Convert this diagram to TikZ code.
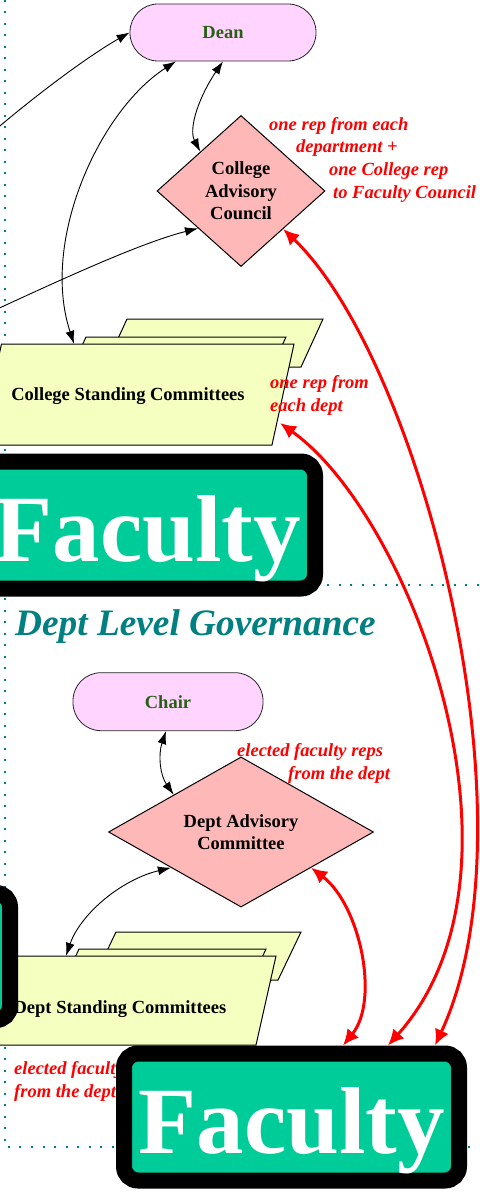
\documentclass[tikz,border=0pt]{standalone}
\usepackage{fontspec}
\setmainfont{Liberation Serif}
\usetikzlibrary{arrows.meta,shapes.geometric}
\definecolor{deanfill}{RGB}{255,212,255}
\definecolor{deantext}{RGB}{40,95,20}
\definecolor{diafill}{RGB}{255,184,184}
\definecolor{stdfill}{RGB}{245,255,192}
\definecolor{facteal}{RGB}{0,204,153}
\definecolor{clteal}{RGB}{0,128,128}
\definecolor{edgered}{RGB}{255,0,0}
\begin{document}
\begin{tikzpicture}[x=1pt,y=-1pt,
  headnode/.style={draw=black!85, line width=0.8pt, fill=deanfill, rounded corners=28pt, text=deantext, inner sep=0pt, font=\bfseries\fontsize{18.5}{22}\selectfont},
  council/.style={diamond, draw, line width=1pt, fill=diafill, inner sep=0pt, align=center, font=\bfseries\fontsize{18.5}{22.5}\selectfont},
  stdshape/.style={draw, line width=1pt, fill=stdfill},
  stdtext/.style={inner sep=0pt, font=\bfseries\fontsize{18.5}{22}\selectfont},
  faculty/.style={draw=black, line width=16pt, fill=facteal, rounded corners=14pt, minimum width=335pt, minimum height=127pt, inner sep=0pt, text=white, text height=72pt, text depth=0pt, font=\bfseries\fontsize{95}{95}\selectfont},
  redlabel/.style={text=edgered, align=left, inner sep=0pt, anchor=base west, font=\bfseries\itshape\fontsize{18.5}{23}\selectfont},
  cluster/.style={clteal, line width=2.5pt, dash pattern=on 2pt off 9.5pt},
  bone/.style={line width=0.9pt, -{Latex[length=13pt,width=9pt]}},
  bboth/.style={line width=0.9pt, {Latex[length=13pt,width=9pt]}-{Latex[length=13pt,width=9pt]}},
  rboth/.style={edgered, line width=3pt, {Latex[length=16pt,width=15pt]}-{Latex[length=16pt,width=15pt]}}
]
\useasboundingbox (0,0) rectangle (479,1193);
\clip (0,0) rectangle (479,1193);
\fill[white] (0,0) rectangle (479,1193);

% cluster borders
\draw[cluster] (5,0) -- (5,1147) -- (479,1147);
\draw[cluster] (5,585) -- (479,585);

% title
\node[anchor=base west, inner sep=0pt, text=clteal, font=\bfseries\itshape\fontsize{37.3}{40}\selectfont] (title) at (15,635) {Dept Level Governance};

% College standing committees
\draw[stdshape] (127,319) -- (323,319) -- (301,367) -- (105,367) -- cycle;
\draw[stdshape] (86,337) -- (286,337) -- (264,385) -- (64,385) -- cycle;
\draw[stdshape] (1.5,344) -- (294,344) -- (272,445) -- (-20.5,445) -- cycle;
\node[stdtext, minimum height=105pt] (csc) at (128,396.5) {College Standing Committees};

% Dept standing committees
\draw[stdshape] (116,932) -- (301,932) -- (278,980) -- (93,980) -- cycle;
\draw[stdshape] (79,949) -- (266,949) -- (244,997) -- (57,997) -- cycle;
\draw[stdshape] (7,956) -- (276,956) -- (256,1045) -- (-13,1045) -- cycle;
\node[stdtext, minimum height=106pt] (dsc) at (120,1009) {Dept Standing Committees};

% heads
\node[headnode, minimum width=186pt, minimum height=57pt] (dean) at (223,32.5) {\raisebox{-2pt}{Dean}};
\node[headnode, minimum width=190pt, minimum height=58pt] (chair) at (168,701.7) {\raisebox{-1pt}{Chair}};

% councils
\node[council, minimum width=168pt, minimum height=151pt] (cac) at (241,191) {College\\Advisory\\Council};
\node[council, minimum width=265pt, minimum height=143pt] (dac) at (241,832) {Dept Advisory\\Committee};

% edge labels
\node[redlabel] (lab1) at (269,199) {one rep from each\\\hspace*{27pt}department +\\\hspace*{60pt}one College rep\\\hspace*{64pt}to Faculty Council};
\node[redlabel] (lab2) at (270,411) {one rep from\\each dept};
\node[redlabel] (lab3) at (237,779) {elected faculty reps\\\hspace*{51pt}from the dept};
\node[redlabel] (lab4) at (14,1097) {elected faculty reps\\from the dept};

% faculty
\node[faculty] (fac1) at (147.5,525) {Faculty};
\node[faculty] (fac3) at (-157.5,956.5) {Faculty};
\node[faculty] (fac2) at (291.5,1117) {Faculty};

% free ends
\coordinate (offa) at (-20,143);
\coordinate (offb) at (-20,317);

% black edges
\draw[bone] (offa) .. controls (35,95) and (90,55) .. (dean.west);
\draw[bboth] ([xshift=-54pt]csc.north) .. controls (40,240) and (100,110) .. ([xshift=-47pt]dean.south);
\draw[bboth] (dean.south) .. controls (200,95) and (188,128) .. (cac.136);
\draw[bone] (offb) .. controls (60,280) and (140,243) .. (cac.221);
\draw[bboth] ([xshift=-2pt]chair.south) .. controls (158,755) and (160,775) .. (dac.151);
\draw[bboth] (dac.207) .. controls (120,880) and (80,915) .. ([xshift=-54pt]dsc.north);

% red edges
\draw[rboth] (cac.-42) .. controls (420,360) and (540,820) .. ([xshift=143.5pt]fac2.north);
\draw[rboth] ([shift={(152,26.5)}]csc.center) .. controls (410,515) and (545,870) .. ([xshift=96.5pt]fac2.north);
\draw[rboth] (dac.-27) .. controls (360,905) and (380,1000) .. ([xshift=51.5pt]fac2.north);
\end{tikzpicture}
\end{document}
